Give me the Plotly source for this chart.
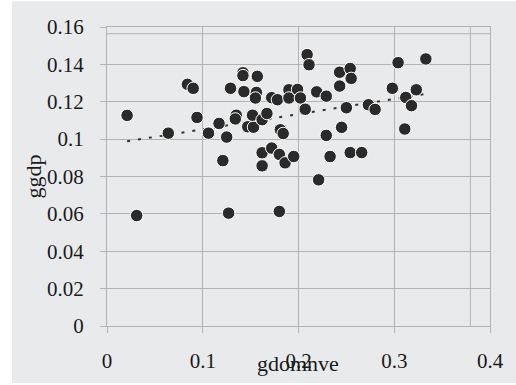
import numpy as np
import plotly.graph_objects as go

# Data
gdomnve = [0.021, 0.031, 0.064, 0.084, 0.090, 0.094, 0.106, 0.117, 0.121, 0.125,
           0.129, 0.127, 0.135, 0.134, 0.142, 0.142, 0.143, 0.147, 0.153, 0.152,
           0.157, 0.156, 0.155, 0.162, 0.167, 0.162, 0.162, 0.172, 0.172, 0.178,
           0.180, 0.180, 0.181, 0.184, 0.186, 0.190, 0.190, 0.195, 0.199, 0.202,
           0.207, 0.209, 0.211, 0.219, 0.221, 0.229, 0.229, 0.233, 0.243, 0.243,
           0.245, 0.250, 0.254, 0.255, 0.254, 0.266, 0.273, 0.280, 0.298, 0.304,
           0.311, 0.312, 0.318, 0.323, 0.333]
ggdp = [0.1127, 0.0591, 0.1032, 0.1293, 0.1272, 0.1116, 0.1032, 0.1084, 0.0885, 0.1011,
        0.1272, 0.0604, 0.1128, 0.1108, 0.1355, 0.1340, 0.1254, 0.1066, 0.1064, 0.1128,
        0.1336, 0.1250, 0.1220, 0.1104, 0.1137, 0.0857, 0.0927, 0.0952, 0.1222, 0.1211,
        0.0918, 0.0613, 0.1050, 0.1030, 0.0873, 0.1264, 0.1220, 0.0907, 0.1266, 0.1220,
        0.1160, 0.1452, 0.1398, 0.1253, 0.0782, 0.1230, 0.1020, 0.0907, 0.1358, 0.1284,
        0.1063, 0.1168, 0.1378, 0.1325, 0.0928, 0.0928, 0.1184, 0.1159, 0.1272, 0.1409,
        0.1054, 0.1223, 0.1179, 0.1264, 0.1429]

x_tickvals = [0, 0.1, 0.2, 0.3, 0.4]
x_ticktext = ["0", "0.1", "0.2", "0.3", "0.4"]
y_tickvals = [0, 0.02, 0.04, 0.06, 0.08, 0.1, 0.12, 0.14, 0.16]
y_ticktext = ["0", "0.02", "0.04", "0.06", "0.08", "0.1", "0.12", "0.14", "0.16"]

# linear trend line fitted to the data
slope, intercept = np.polyfit(gdomnve, ggdp, 1)
tx = [min(gdomnve), max(gdomnve)]
ty = [slope * v + intercept for v in tx]

BG = "#e9eaec"
GRID = "#b3b3b3"
FONT = "Liberation Serif, Times New Roman, serif"

fig = go.Figure()
fig.add_trace(go.Scatter(
    x=tx, y=ty, mode="lines",
    line=dict(color="#333333", width=2, dash="3px,8px"),
    hoverinfo="skip", showlegend=False))
fig.add_trace(go.Scatter(
    x=gdomnve, y=ggdp, mode="markers",
    marker=dict(size=12.5, color="#2a2a2a", line=dict(color="white", width=1)),
    showlegend=False))

axis_common = dict(
    showgrid=True, gridcolor=GRID, gridwidth=1,
    showline=True, linecolor=GRID, linewidth=1, mirror=True,
    ticks="outside", ticklen=6, tickcolor=GRID, tickwidth=1,
    zeroline=False, automargin=False,
    tickfont=dict(family=FONT, size=21, color="#1a1a1a"),
)

fig.update_layout(
    width=516, height=385,
    margin=dict(l=107, r=26, t=27, b=59),
    paper_bgcolor="white",
    plot_bgcolor=BG,
    xaxis=dict(range=[0, 0.4], tickvals=x_tickvals, ticktext=x_ticktext,
               ticklabelstandoff=10, **axis_common),
    yaxis=dict(range=[0, 0.16], tickvals=y_tickvals, ticktext=y_ticktext,
               ticklabelstandoff=12, **axis_common),
    shapes=[
        dict(type="rect", xref="paper", yref="paper", x0=-0.248, x1=1.1,
             y0=-0.191, y1=1.086, fillcolor=BG, line=dict(width=0), layer="below"),
        dict(type="line", xref="x", yref="y", x0=0, x1=0.4, y0=0.1564, y1=0.1564,
             line=dict(color=GRID, width=1), layer="below"),
        dict(type="line", xref="x", yref="y", x0=0.3795, x1=0.3795, y0=0, y1=0.16,
             line=dict(color=GRID, width=1), layer="below"),
    ],
    annotations=[
        dict(text="gdomnve", xref="paper", yref="paper", x=0.498, y=-0.124,
             xanchor="center", yanchor="middle", showarrow=False,
             font=dict(family=FONT, size=22, color="#1a1a1a")),
        dict(text="ggdp", xref="paper", yref="paper", x=-0.193, y=0.5,
             xanchor="center", yanchor="middle", showarrow=False, textangle=-90,
             font=dict(family=FONT, size=22, color="#1a1a1a")),
    ],
)

fig.write_html("out.html", config={"displayModeBar": False},
               post_script="document.body.style.margin='0';")
